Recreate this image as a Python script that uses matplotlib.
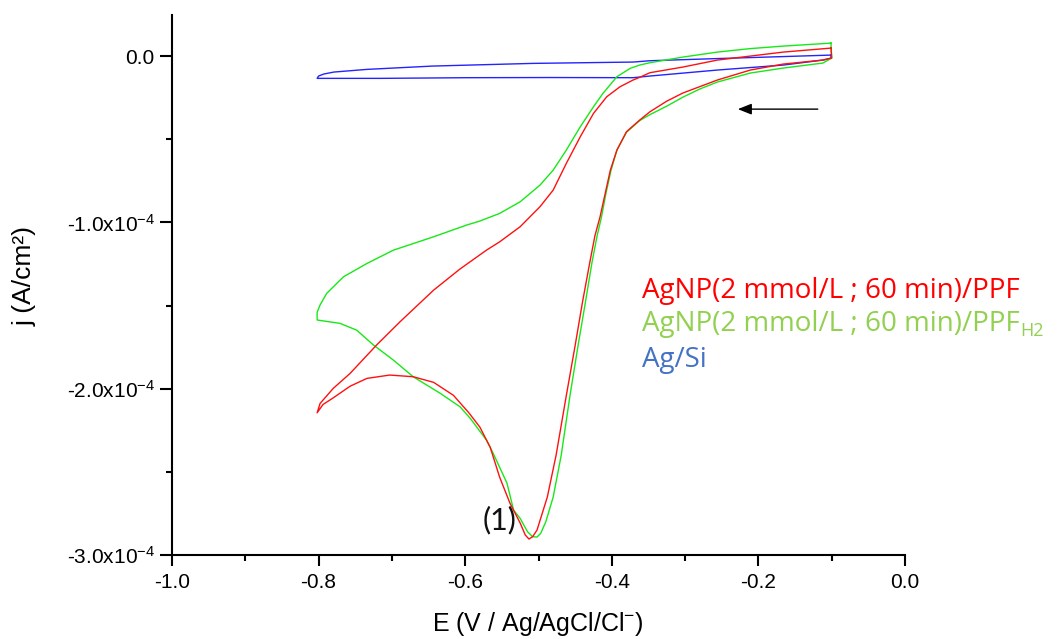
import numpy as np
import matplotlib
matplotlib.use('Agg')
import matplotlib.pyplot as plt
from matplotlib.ticker import MultipleLocator

plt.rcParams['font.family'] = ['Liberation Sans', 'DejaVu Sans']
plt.rcParams['mathtext.fontset'] = 'custom'
plt.rcParams['mathtext.rm'] = 'Liberation Sans'
plt.rcParams['mathtext.it'] = 'Liberation Sans:italic'
plt.rcParams['mathtext.bf'] = 'Liberation Sans:bold'

J_UNIT = 1e-4  # currents below are given in units of 1e-4 A/cm2

# ---- AgNP(2 mmol/L ; 60 min)/PPF (red) : cathodic scan then anodic return
E_ppf = [-0.101, -0.100, -0.112, -0.166, -0.211, -0.256, -0.303, -0.325, -0.348, -0.362,
         -0.380, -0.393, -0.402, -0.409, -0.416, -0.423, -0.430, -0.440, -0.450, -0.462,
         -0.476, -0.488, -0.502, -0.508, -0.513, -0.518, -0.525, -0.539, -0.553, -0.566,
         -0.580, -0.595, -0.616, -0.643, -0.671, -0.703, -0.734, -0.757, -0.780, -0.794,
         -0.802,
         -0.798, -0.780, -0.757, -0.721, -0.689, -0.643, -0.607, -0.571, -0.553, -0.525,
         -0.498, -0.480, -0.462, -0.443, -0.425, -0.407, -0.389, -0.371, -0.362, -0.348,
         -0.303, -0.256, -0.166, -0.101]
j_ppf = [0.048, -0.012, -0.024, -0.048, -0.084, -0.144, -0.222, -0.271, -0.335, -0.385,
         -0.455, -0.565, -0.686, -0.826, -0.966, -1.080, -1.240, -1.480, -1.740, -2.040,
         -2.400, -2.652, -2.850, -2.890, -2.904, -2.880, -2.808, -2.688, -2.532, -2.351,
         -2.231, -2.145, -2.040, -1.962, -1.928, -1.918, -1.938, -1.985, -2.055, -2.095,
         -2.145,
         -2.089, -1.998, -1.908, -1.738, -1.598, -1.407, -1.280, -1.167, -1.117, -1.026,
         -0.906, -0.806, -0.645, -0.485, -0.345, -0.245, -0.185, -0.144, -0.128, -0.100,
         -0.066, -0.024, 0.024, 0.048]

# ---- AgNP(2 mmol/L ; 60 min)/PPF_H2 (green)
E_h2 = [-0.101, -0.100, -0.112, -0.166, -0.211, -0.256, -0.280, -0.303, -0.325, -0.348,
        -0.362, -0.380, -0.393, -0.401, -0.408, -0.414, -0.420, -0.427, -0.436, -0.446,
        -0.457, -0.469, -0.480, -0.490, -0.497, -0.502, -0.508, -0.515, -0.525, -0.534,
        -0.543, -0.562, -0.571, -0.593, -0.607, -0.634, -0.671, -0.698, -0.725, -0.748,
        -0.771, -0.802,
        -0.802, -0.798, -0.789, -0.766, -0.734, -0.698, -0.644, -0.598, -0.580, -0.553,
        -0.525, -0.498, -0.480, -0.462, -0.443, -0.425, -0.412, -0.393, -0.375, -0.362,
        -0.348, -0.303, -0.256, -0.211, -0.166, -0.101]
j_h2 = [0.078, -0.012, -0.042, -0.072, -0.102, -0.156, -0.198, -0.247, -0.301, -0.352,
        -0.388, -0.458, -0.565, -0.686, -0.826, -0.966, -1.080, -1.240, -1.480, -1.740,
        -2.040, -2.400, -2.652, -2.800, -2.870, -2.892, -2.890, -2.860, -2.780, -2.730,
        -2.568, -2.387, -2.309, -2.179, -2.109, -2.028, -1.928, -1.828, -1.738, -1.648,
        -1.607, -1.587,
        -1.540, -1.497, -1.427, -1.327, -1.247, -1.167, -1.088, -1.016, -0.992, -0.946,
        -0.876, -0.776, -0.686, -0.565, -0.425, -0.305, -0.224, -0.124, -0.074, -0.054,
        -0.040, -0.006, 0.024, 0.045, 0.060, 0.078]

# ---- Ag/Si (blue)
E_si = [-0.101, -0.101, -0.112, -0.166, -0.256, -0.348, -0.371, -0.484, -0.598, -0.716,
        -0.802, -0.800, -0.793, -0.779, -0.734, -0.644, -0.508, -0.371, -0.348, -0.256,
        -0.166, -0.101]
j_si = [0.006, -0.012, -0.024, -0.054, -0.084, -0.120, -0.130, -0.129, -0.130, -0.134,
        -0.134, -0.120, -0.108, -0.096, -0.080, -0.060, -0.044, -0.036, -0.028, -0.015,
        -0.003, 0.006]

x_ticks = [-1.0, -0.8, -0.6, -0.4, -0.2, 0.0]
x_tick_labels = ['-1.0', '-0.8', '-0.6', '-0.4', '-0.2', '0.0']
y_ticks = [0.0, -1.0e-4, -2.0e-4, -3.0e-4]
y_tick_labels = ['0.0', '-1.0x10$^{-4}$', '-2.0x10$^{-4}$', '-3.0x10$^{-4}$']

legend_labels = ['AgNP(2 mmol/L ; 60 min)/PPF', 'AgNP(2 mmol/L ; 60 min)/PPF', 'Ag/Si']
legend_sub = ['', 'H2', '']
legend_colors = ['#FF0000', '#92D050', '#4472C4']

W, H = 1064, 639
fig = plt.figure(figsize=(W / 100, H / 100), dpi=100)
ax = fig.add_axes([172 / W, (H - 555) / H, (905 - 172) / W, (555 - 15) / H])

ax.plot(E_si, np.array(j_si) * J_UNIT, color='#2323ff', lw=1.0)
ax.plot(E_h2, np.array(j_h2) * J_UNIT, color='#18e818', lw=1.0)
ax.plot(E_ppf, np.array(j_ppf) * J_UNIT, color='#ff1010', lw=1.0)

ax.set_xlim(-1.0, 0.0)
ax.set_ylim(-3.0e-4, 0.247e-4)
ax.set_xticks(x_ticks)
ax.set_xticklabels(x_tick_labels)
ax.set_yticks(y_ticks)
ax.set_yticklabels(y_tick_labels)
ax.xaxis.set_minor_locator(MultipleLocator(0.1))
ax.yaxis.set_minor_locator(MultipleLocator(0.5e-4))
ax.tick_params(which='major', direction='out', length=8, width=1.5, labelsize=15, pad=5)
ax.tick_params(which='minor', direction='out', length=4.5, width=1.5)
ax.tick_params(axis='y', which='major', length=8.5, pad=4)
for s in ['top', 'right']:
    ax.spines[s].set_visible(False)
for s in ['left', 'bottom']:
    ax.spines[s].set_linewidth(1.5)

fig.text(25 / W, 1 - 276 / H, 'j (A/cm²)', rotation=90, ha='center', va='center', fontsize=19)
fig.text(538 / W, 1.5 / H, 'E (V / Ag/AgCl/Cl$^{-}$)', ha='center', va='bottom', fontsize=18)

# arrow indicating scan direction
ax.annotate('', xy=(-0.228, -0.319e-4), xytext=(-0.119, -0.319e-4),
            arrowprops=dict(arrowstyle='-|>,head_length=0.55,head_width=0.22',
                            color='black', lw=1.0, mutation_scale=15, shrinkA=0, shrinkB=0))

# peak label
ax.text(-0.530, -2.79e-4, '(1)', fontsize=22, family='Lato', ha='right', va='center', color='#111111')

# legend text
baselines = [298, 331, 367]
texts = []
for lab, sub, col, yb in zip(legend_labels, legend_sub, legend_colors, baselines):
    t = fig.text(642 / W, 1 - yb / H, lab, color=col, fontsize=20, family='Open Sans', va='baseline', ha='left')
    texts.append((t, sub, col, yb))
fig.canvas.draw()
r = fig.canvas.get_renderer()
for t, sub, col, yb in texts:
    if sub:
        bb = t.get_window_extent(renderer=r)
        fig.text(bb.x1 / W, 1 - (yb + 5) / H, sub, color=col, fontsize=13, family='Open Sans', va='baseline', ha='left')

fig.savefig('out.png', dpi=100)
